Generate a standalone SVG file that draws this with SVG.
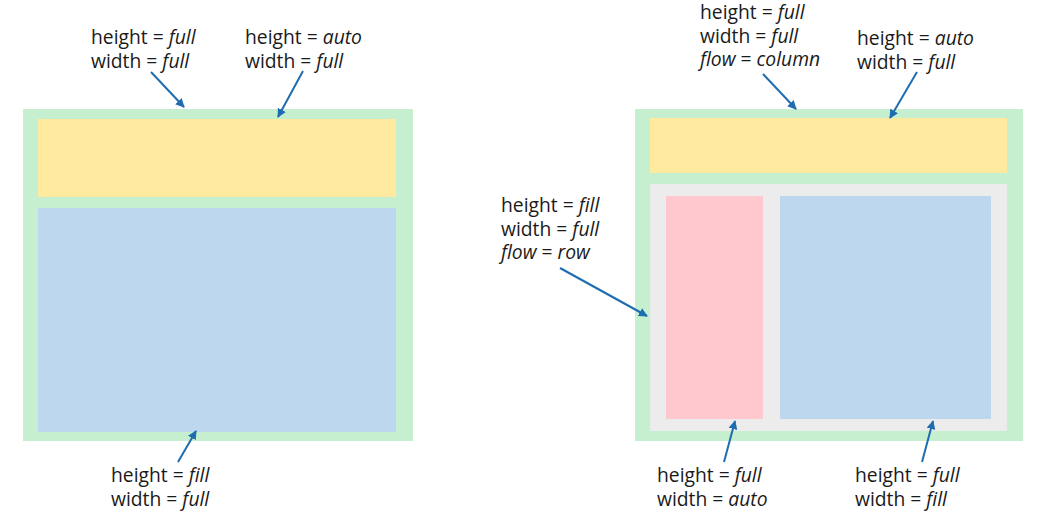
<svg xmlns="http://www.w3.org/2000/svg" width="1053" height="527" viewBox="0 0 1053 527">
<style>
text{font-family:"Open Sans","Noto Sans","Liberation Sans",sans-serif;font-size:19.3px;fill:#1a1a1a}
.i{font-style:italic}
.g{fill:#c6efd0}.y{fill:#ffeaa0}.b{fill:#bdd7ee}.p{fill:#ffc7ce}.gr{fill:#ececec}
.c line{stroke:#1f6cb0;stroke-width:2;marker-end:url(#ah)}
</style>
<defs>
<marker id="ah" viewBox="0 0 10 10" refX="9" refY="5" markerWidth="4.5" markerHeight="4.5" orient="auto" markerUnits="strokeWidth">
<path d="M0,0L10,5L0,10z" fill="#1f6cb0"/>
</marker>
</defs>
<rect width="1053" height="527" fill="#fff"/>
<g id="left-outer"><rect class="g" x="23" y="109" width="390" height="332"/></g>
<g id="left-top"><rect class="y" x="38" y="119" width="358" height="78"/></g>
<g id="left-bottom"><rect class="b" x="38" y="208" width="358" height="224"/></g>
<g id="right-outer"><rect class="g" x="635" y="109" width="388" height="332"/></g>
<g id="right-top"><rect class="y" x="650" y="118" width="357" height="55"/></g>
<g id="right-row"><rect class="gr" x="650" y="184" width="357" height="247"/></g>
<g id="right-pink"><rect class="p" x="666" y="196" width="97" height="223"/></g>
<g id="right-blue"><rect class="b" x="780" y="196" width="211" height="223"/></g>
<g id="labels">
<text x="91" y="44">height = <tspan class="i">full</tspan></text>
<text x="91" y="68">width = <tspan class="i">full</tspan></text>
<text x="245" y="44">height = <tspan class="i">auto</tspan></text>
<text x="245" y="68">width = <tspan class="i">full</tspan></text>
<text x="111" y="482">height = <tspan class="i">fill</tspan></text>
<text x="111" y="506">width = <tspan class="i">full</tspan></text>
<text x="700" y="19">height = <tspan class="i">full</tspan></text>
<text x="700" y="43">width = <tspan class="i">full</tspan></text>
<text x="700" y="66"><tspan class="i">flow</tspan> = <tspan class="i">column</tspan></text>
<text x="857" y="45">height = <tspan class="i">auto</tspan></text>
<text x="857" y="69">width = <tspan class="i">full</tspan></text>
<text x="501" y="212">height = <tspan class="i">fill</tspan></text>
<text x="501" y="236">width = <tspan class="i">full</tspan></text>
<text x="501" y="259"><tspan class="i">flow</tspan> = <tspan class="i">row</tspan></text>
<text x="657" y="482">height = <tspan class="i">full</tspan></text>
<text x="657" y="506">width = <tspan class="i">auto</tspan></text>
<text x="855" y="482">height = <tspan class="i">full</tspan></text>
<text x="855" y="506">width = <tspan class="i">fill</tspan></text>
</g>
<g id="connectors" class="c">
<line x1="151" y1="72" x2="184" y2="107"/>
<line x1="303" y1="71" x2="278" y2="117"/>
<line x1="178" y1="462" x2="196" y2="431"/>
<line x1="763" y1="74" x2="796" y2="109"/>
<line x1="917" y1="72" x2="890" y2="118"/>
<line x1="560" y1="268" x2="647" y2="316"/>
<line x1="724" y1="462" x2="735" y2="421"/>
<line x1="922" y1="462" x2="933" y2="421"/>
</g>
</svg>
